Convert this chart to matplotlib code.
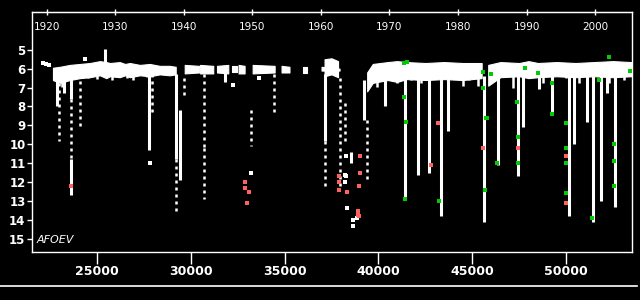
import matplotlib
matplotlib.use('Agg')
import matplotlib.pyplot as plt
from matplotlib.lines import Line2D

# ---------------- data (JD - 2400000, visual magnitude) ----------------
# maximum-light band: sample points (segment id, JD, bright edge, faint edge)
band_seg = ([0]*16 + [1]*2 + [2]*2 + [3]*2 + [4]*2 + [5]*2 + [6]*2 + [7]*2 + [8]*2 + [9]*2
            + [10]*3 + [11]*9 + [12]*10)
band_jd = [22660, 23030, 23560, 24100, 24630, 25160, 25500, 25700, 26220, 26500, 26760, 27290, 27820, 28350, 28880, 29200,
           29680, 30450,
           30500, 31200,
           31400, 32000,
           32200, 32450,
           32550, 32870,
           33300, 34470,
           34840, 35260,
           35960, 36170,
           36970, 37930,
           37130, 37500, 37850,
           39400, 39700, 40500, 41000, 41500, 42500, 43500, 44500, 45500,
           45850, 46500, 47500, 48000, 48500, 49500, 50500, 51500, 52500, 53457]
band_hi = [5.95, 5.9, 5.8, 5.75, 5.7, 5.6, 5.65, 5.7, 5.65, 5.75, 5.7, 5.8, 5.75, 5.85, 5.85, 5.9,
           5.8, 5.85,
           5.8, 5.85,
           5.85, 5.8,
           5.85, 5.85,
           5.8, 5.85,
           5.8, 5.85,
           5.85, 5.9,
           5.9, 5.9,
           5.9, 6.0,
           5.5, 5.45, 5.6,
           6.2, 5.75, 5.65, 5.6, 5.65, 5.7, 5.65, 5.7, 5.7,
           5.8, 5.65, 5.7, 5.6, 5.7, 5.65, 5.7, 5.65, 5.6, 5.65]
band_lo = [6.6, 6.75, 6.6, 6.5, 6.45, 6.35, 6.5, 6.4, 6.45, 6.35, 6.45, 6.35, 6.4, 6.3, 6.35, 6.3,
           6.25, 6.2,
           6.25, 6.25,
           6.2, 6.25,
           6.2, 6.2,
           6.25, 6.25,
           6.25, 6.2,
           6.2, 6.2,
           6.25, 6.25,
           6.1, 6.1,
           6.4, 6.3, 6.45,
           7.2, 6.75, 6.6, 6.7, 6.55, 6.6, 6.55, 6.6, 6.5,
           6.9, 6.45, 6.4, 6.5, 6.45, 6.4, 6.45, 6.4, 6.45, 6.4]

# short dips below the maximum band (JD, faintest mag)
dip_jd = [23123, 24522, 24984, 25782, 26580, 26915, 27644, 39947, 41011, 41756, 42288,
          44496, 44815, 45294, 47156, 48752, 49975, 50667, 52263, 53100]
dip_to = [6.95, 6.5, 6.55, 6.6, 6.5, 6.6, 6.45, 6.95, 6.75, 6.6, 6.75,
          6.9, 6.6, 6.9, 7.0, 6.75, 6.5, 6.75, 6.75, 6.6]

# fades that are densely covered (JD, from mag, to mag)
solid_jd = [22850, 23250, 23600, 23600, 25430, 27800, 29230, 29450, 31800, 37130, 38560, 39250,
            40370, 41390, 42100, 42720, 43350, 43720, 45650, 46360, 47420, 47680, 48530, 49270,
            50180, 50400, 51140, 51420, 51880, 52200, 52620]
solid_from = [6.3, 6.3, 6.3, 10.8, 5.7, 6.3, 6.3, 8.2, 6.2, 6.3, 10.4, 6.6,
              6.4, 6.4, 6.4, 6.4, 6.4, 6.4, 6.4, 6.4, 6.4, 6.4, 6.4, 6.4,
              6.4, 6.4, 6.4, 6.4, 6.4, 6.4, 6.4]
solid_to = [8.0, 7.3, 7.6, 12.7, 4.95, 10.3, 10.8, 11.9, 6.7, 9.8, 11.0, 8.7,
            8.0, 12.9, 11.6, 11.5, 13.8, 9.3, 14.1, 11.1, 11.7, 9.1, 7.1, 8.4,
            13.8, 10.0, 8.8, 14.1, 13.0, 7.3, 13.3]

# fades that are sparsely covered (JD, from mag, to mag)
sparse_jd = [23000, 23600, 24120, 27950, 29230, 29650, 30720, 30720, 33200, 34450, 37130, 37950, 38200, 39400]
sparse_from = [6.4, 7.6, 6.3, 6.3, 10.8, 6.5, 6.3, 10.2, 8.2, 6.3, 9.8, 6.5, 7.8, 8.7]
sparse_to = [9.8, 10.8, 9.2, 8.5, 13.6, 7.5, 10.2, 12.9, 10.1, 8.3, 12.4, 12.4, 9.8, 12.0]

# isolated observations
white_jd = [22150, 22300, 22450, 27830, 32250, 33200, 38200, 38200, 38300, 38620, 38620, 38870,
            38250, 38250, 24350, 33650]
white_mag = [5.7, 5.75, 5.8, 11.0, 6.85, 11.5, 11.6, 12.0, 13.35, 14.0, 14.3, 13.9,
             10.6, 11.7, 5.5, 6.5]

red_jd = [23600, 32910, 32873, 33101, 33016, 37890, 37890, 37890, 39027, 39027, 38990, 38351,
          38920, 38900, 38950, 43192, 45590, 42820, 47447, 49985, 49985]
red_mag = [12.2, 12.0, 12.3, 12.5, 13.1, 11.7, 12.0, 12.4, 10.6, 11.5, 12.2, 12.5,
           13.55, 13.75, 13.8, 8.9, 10.2, 11.1, 10.2, 10.6, 13.1]

green_jd = [41386, 41546, 41386, 41493, 41440, 45590, 45590, 45750, 45697, 43245, 46330, 47394,
            47447, 47447, 49985, 49985, 49985, 49985, 52526, 52526, 52526, 52260, 53400, 51749,
            46011, 47784, 48528, 49273, 49273, 51400, 45798]
green_mag = [5.7, 5.65, 7.5, 8.8, 12.9, 6.2, 7.0, 8.6, 12.4, 13.0, 11.0, 7.75,
             9.6, 11.0, 8.9, 10.2, 11.0, 12.6, 10.0, 10.9, 12.2, 5.4, 6.1, 6.6,
             6.3, 5.95, 6.25, 6.75, 8.4, 13.9, 8.6]

mag_ticks = [5, 6, 7, 8, 9, 10, 11, 12, 13, 14, 15]
jd_ticks = [25000, 30000, 35000, 40000, 45000, 50000]
year_ticks = [1920, 1930, 1940, 1950, 1960, 1970, 1980, 1990, 2000]
label_text = "AFOEV"

# ---------------- figure ----------------
fig = plt.figure(figsize=(6.4, 3.0), dpi=100, facecolor='black')
ax = fig.add_axes([31.7/640, 1-252/300, 600/640, 240/300])
ax.set_facecolor('black')

for s in sorted(set(band_seg)):
    idx = [i for i, v in enumerate(band_seg) if v == s]
    ax.fill_between([band_jd[i] for i in idx], [band_hi[i] for i in idx],
                    [band_lo[i] for i in idx], color='white', lw=0.8, edgecolor='white')

dip_from = [6.3] * len(dip_jd)
ax.vlines(dip_jd, dip_from, dip_to, colors='white', lw=1.8, capstyle='butt')
ax.vlines(solid_jd, solid_from, solid_to, colors='white', lw=2.2, capstyle='butt')
ax.vlines(sparse_jd, sparse_from, sparse_to, colors='white', lw=1.8,
          linestyles=[(0, (1.2, 1.6))])

ax.scatter(white_jd, white_mag, s=5.5, marker='s', c='white', linewidths=0)
ax.scatter(red_jd, red_mag, s=5.5, marker='s', c='#ff6060', linewidths=0, zorder=3)
ax.scatter(green_jd, green_mag, s=5.5, marker='s', c='#00cc00', linewidths=0, zorder=3)

ax.set_xlim(21527, 53495)
ax.set_ylim(15.7, 3.0)

ax.set_yticks(mag_ticks)
ax.set_yticklabels([str(m) for m in mag_ticks])
ax.set_xticks(jd_ticks)
ax.set_xticklabels([str(j) for j in jd_ticks])
ax.tick_params(axis='y', colors='white', direction='out', length=3.5, width=1,
               labelsize=8.5, pad=1)
ax.tick_params(axis='x', colors='white', direction='out', length=8.5, width=1,
               labelsize=9, pad=1)
for lab in ax.get_yticklabels() + ax.get_xticklabels():
    lab.set_fontweight('bold')
for sp in ax.spines.values():
    sp.set_color('white')
    sp.set_linewidth(1.0)

def jd2yr(j):
    return 2000 + (j - 51544.5) / 365.25

def yr2jd(y):
    return 51544.5 + (y - 2000) * 365.25

sec = ax.secondary_xaxis('top', functions=(jd2yr, yr2jd))
sec.set_xticks(year_ticks)
sec.set_xticklabels([str(y) for y in year_ticks])
sec.tick_params(axis='x', colors='white', direction='inout', length=5, width=1,
                labelsize=7.5, pad=-17)
sec.spines['top'].set_color('white')

ax.text(0.008, 0.05, label_text, transform=ax.transAxes, color='white',
        fontsize=8, fontstyle='italic', ha='left', va='center')

fig.add_artist(Line2D([0, 637/640], [1-286/300, 1-286/300], color='white', lw=1.2,
                      transform=fig.transFigure))

fig.savefig('out.png', dpi=100, facecolor='black')
